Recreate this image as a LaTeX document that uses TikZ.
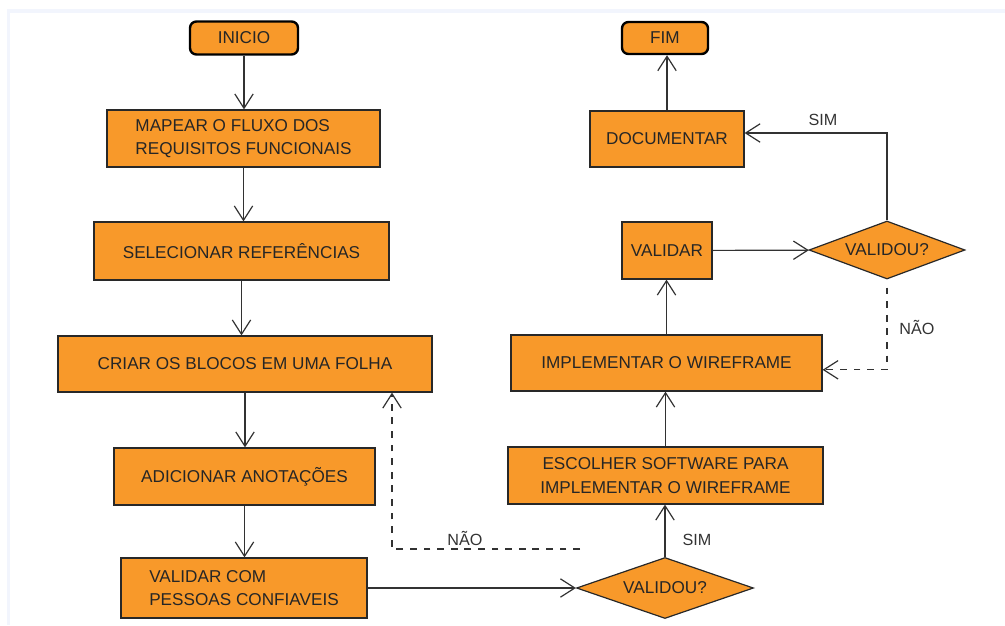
\documentclass[tikz,border=0pt]{standalone}
\usepackage{fontspec}
\setmainfont{Liberation Sans}
\usetikzlibrary{shapes.geometric, arrows.meta}

\definecolor{boxfill}{RGB}{248,153,42}
\definecolor{boxline}{RGB}{40,40,40}
\definecolor{edgeline}{RGB}{50,50,50}
\definecolor{framelight}{RGB}{242,245,253}

\tikzset{
    stepbox/.style={rectangle, draw=boxline, fill=boxfill, line width=0.03cm,
        inner sep=0pt, text=black!85, font=\fontsize{12.2}{16.5}\selectfont},
    endbox/.style={stepbox, rounded corners=0.16cm, line width=0.06cm, draw=black},
    choice/.style={diamond, draw=boxline, fill=boxfill, line width=0.03cm,
        inner sep=0pt, text=black!85, font=\fontsize{12.2}{16.5}\selectfont},
    flow/.style={draw=edgeline, line width=0.03cm,
        -{Straight Barb[length=0.36cm, width=0.46cm, line width=0.03cm]}},
    back/.style={flow, dash pattern=on 0.17cm off 0.17cm},
    tag/.style={text=black!80, font=\fontsize{11.5}{14}\selectfont}
}

\begin{document}
\begin{tikzpicture}[x=0.025cm, y=-0.025cm]

    \useasboundingbox (0,0) rectangle (1005,625);
    \fill[framelight] (7,9) rectangle (1005,13);
    \fill[framelight] (7,9) rectangle (10,625);

    % draw nodes
    \node [endbox, minimum width=108*0.025cm, minimum height=33*0.025cm]
        (vini) at (244, 38) {INICIO};
    \node [endbox, minimum width=86*0.025cm, minimum height=32*0.025cm]
        (vfim) at (665, 38) {FIM};

    \foreach \t/\x/\y/\w/\h/\a/\s in {
            map/243.5/138.5/273/57/left/{MAPEAR O FLUXO DOS\\REQUISITOS FUNCIONAIS},
            sel/241.5/251/295/58/center/{SELECIONAR REFERÊNCIAS},
            cri/245/364/374/56/center/{CRIAR OS BLOCOS EM UMA FOLHA},
            adi/244.5/476.5/261/57/center/{ADICIONAR ANOTAÇÕES},
            com/244/588/246/60/left/{VALIDAR COM\\PESSOAS CONFIAVEIS},
            esc/665.5/475.5/315/57/center/{ESCOLHER SOFTWARE PARA\\IMPLEMENTAR O WIREFRAME},
            imp/666.5/363/311/56/center/{IMPLEMENTAR O WIREFRAME},
            val/667/250.5/90/57/center/{VALIDAR},
            doc/667/139/154/56/center/{DOCUMENTAR}}
        \node [stepbox, align=\a, minimum width=\w*0.025cm, minimum height=\h*0.025cm]
            (v\t) at (\x, \y) {\s};

    \node [choice, aspect=2.9, minimum width=177*0.025cm, minimum height=61*0.025cm]
        (vdeca) at (665, 588) {VALIDOU?};
    \node [choice, aspect=2.7, minimum width=156*0.025cm, minimum height=58*0.025cm]
        (vdecb) at (887, 250) {VALIDOU?};

    \coordinate (nfree) at (580, 549);
    \coordinate (nturn) at (392, 549);

    % draw edges
    \foreach \i/\j in {ini/map, map/sel, sel/cri, cri/adi, adi/com}
        \draw [flow] (v\i) -- (v\i |- v\j.north);
    \foreach \i/\j in {deca/esc, esc/imp, imp/val, doc/fim}
        \draw [flow] (v\i) -- (v\i |- v\j.south);

    \draw [flow] (vcom) -- (vdeca);
    \draw [flow] (vval) -- (vdecb);
    \draw [flow] (vdecb) |- ([yshift=0.15cm]vdoc.east);
    \draw [back] ([yshift=-0.2cm]vdecb.south) |- ([yshift=-0.17cm]vimp.east);
    \draw [back] (nfree) -- (nturn) -- (nturn |- vcri.south);

    % labels
    \node [tag] (lsima) at (697, 540) {SIM};
    \node [tag] (lnaoa) at (465, 538) {NÃO};
    \node [tag] (lsimb) at (823, 120) {SIM};
    \node [tag] (lnaob) at (917, 327) {NÃO};

\end{tikzpicture}
\end{document}
